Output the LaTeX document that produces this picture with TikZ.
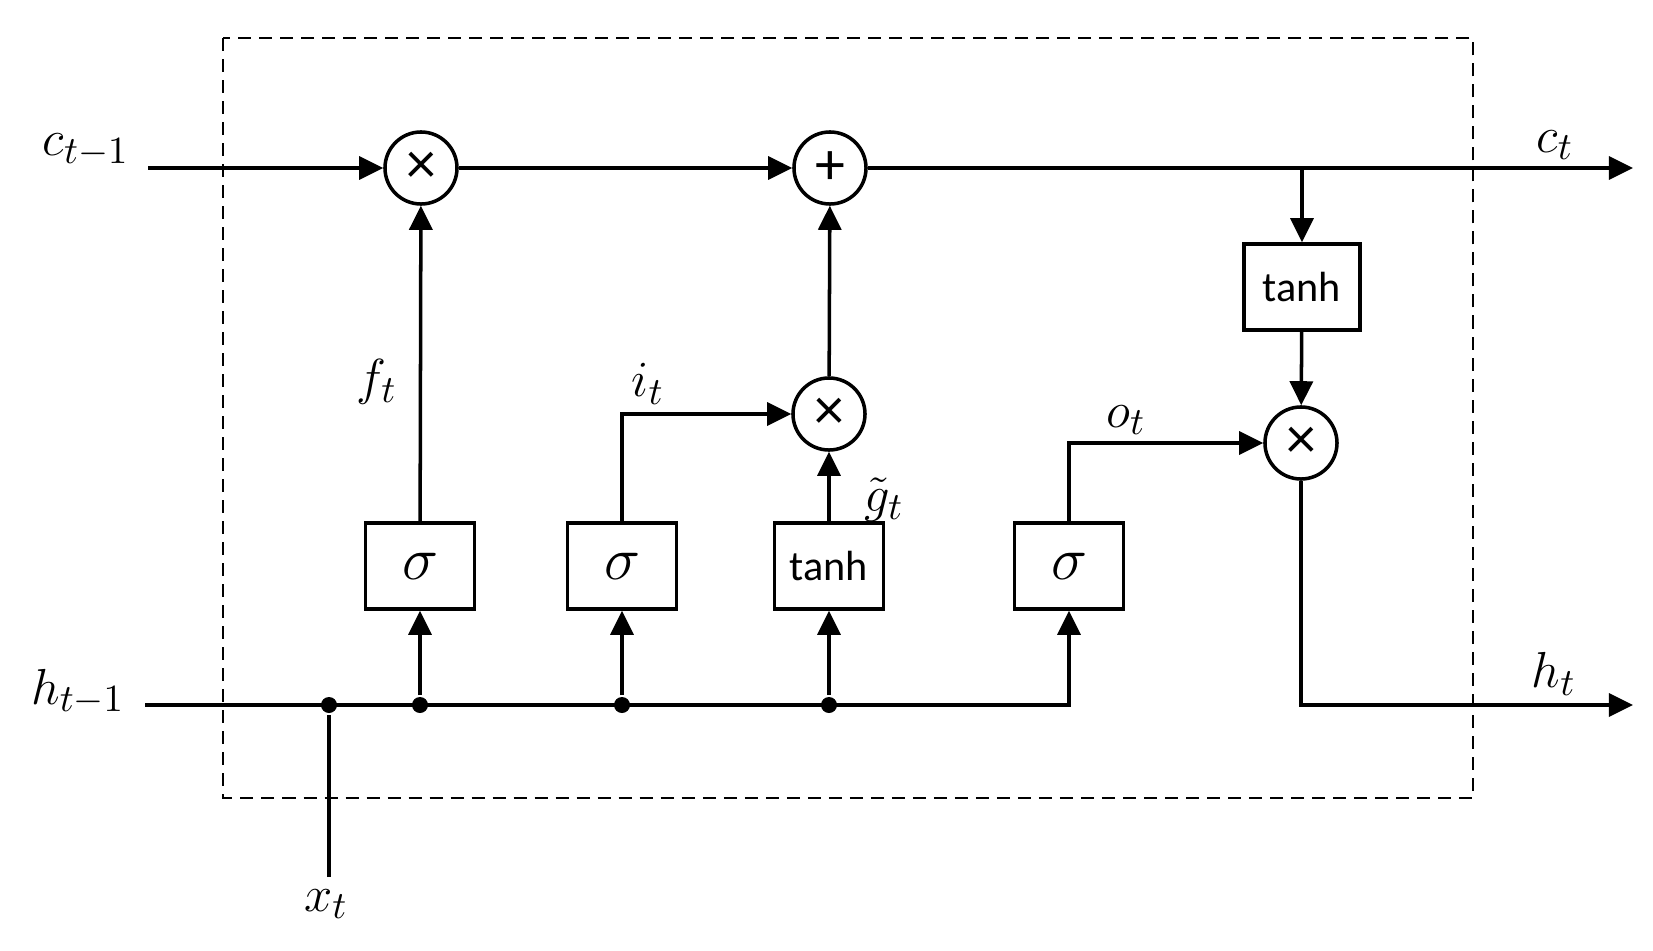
\documentclass[tikz,border=0pt]{standalone}
\usepackage{amsmath}
\usepackage{fontspec}
\newfontfamily\gatefont{Carlito}
\usetikzlibrary{arrows.meta, positioning, calc}

\begin{document}
\begin{tikzpicture}[x=0.01cm, y=-0.01cm, line width=1pt,
  >={Triangle[length=0.24cm, width=0.23cm]},
  op/.style={circle, draw, minimum size=0.72cm, inner sep=0pt, font=\gatefont\fontsize{17}{17}\selectfont},
  gate/.style={draw, minimum width=1.09cm, minimum height=0.86cm, inner sep=0pt},
  junc/.style={circle, fill, minimum size=0.16cm, inner sep=0pt},
  lbl/.style={font=\fontsize{15.5}{17}\selectfont}]
  \useasboundingbox (0,0) rectangle (1653,951);
  % cell border
  \draw[line width=0.8pt, dash pattern=on 0.13cm off 0.08cm] (223,38) rectangle (1473,798);

  % pointwise operations
  \node[op] (mul1) at (421,168) {×};
  \node[op] (add) at (830,168) {+};
  \node[op] (mul2) at (829,414) {×};
  \node[op] (mul3) at (1301,443) {×};

  % gates
  \node[gate, font=\fontsize{18}{18}\selectfont] (sigf) at (420,566) {$\sigma$};
  \node[gate, font=\fontsize{18}{18}\selectfont] (sigi) at (622,566) {$\sigma$};
  \node[gate, font=\gatefont\fontsize{12}{14}\selectfont] (tanhg) at (829,566) {tanh};
  \node[gate, font=\fontsize{18}{18}\selectfont] (sigo) at (1069,566) {$\sigma$};
  \node[gate, minimum width=1.16cm, font=\gatefont\fontsize{12}{14}\selectfont] (tanhc) at (1302,287) {tanh};

  % junctions and free ends
  \node[junc] (j0) at (329,705) {};
  \node[junc] (j1) at (420,705) {};
  \node[junc] (j2) at (622,705) {};
  \node[junc] (j3) at (829,705) {};
  \coordinate (cin) at (148,168);
  \coordinate (cout) at (1633,168);
  \coordinate (hin) at (145,705);
  \coordinate (hout) at (1633,705);
  \coordinate (xin) at (329,877);
  \coordinate (cbr) at (tanhc |- add);

  % labels
  \node[lbl] (lcin) at (86,150) {$c_{t-1}$};
  \node[lbl] (lhin) at (78,692) {$h_{t-1}$};
  \node[lbl] (lxin) at (326,904) {$x_t$};
  \node[lbl] (lcout) at (1555,145) {$c_t$};
  \node[lbl] (lhout) at (1554,674) {$h_t$};
  \node[lbl] (lf) at (377,382) {$f_t$};
  \node[lbl] (li) at (648,384) {$i_t$};
  \node[lbl] (lg) at (884,500) {$\tilde{g}_t$};
  \node[lbl] (lo) at (1126,420) {$o_t$};

  % cell state
  \draw[->] (cin) -- (mul1);
  \draw[->] (mul1) -- (add);
  \draw[->] (add) -- (cout);
  \draw[->] (cbr) -- (tanhc);
  \draw[->] (tanhc) -- (mul3);
  \draw[->] (mul3) |- (hout);

  % hidden state and input
  \draw[->] (hin) -- (sigo |- hin) -- (sigo);
  \draw (xin) -- (j0);
  \draw[->] (j1) -- (sigf);
  \draw[->] (j2) -- (sigi);
  \draw[->] (j3) -- (tanhg);

  % gate outputs
  \draw[->] (sigf) -- (mul1);
  \draw[->] (sigi) |- (mul2);
  \draw[->] (tanhg) -- (mul2);
  \draw[->] (mul2) -- (add);
  \draw[->] (sigo) |- (mul3);
\end{tikzpicture}
\end{document}
